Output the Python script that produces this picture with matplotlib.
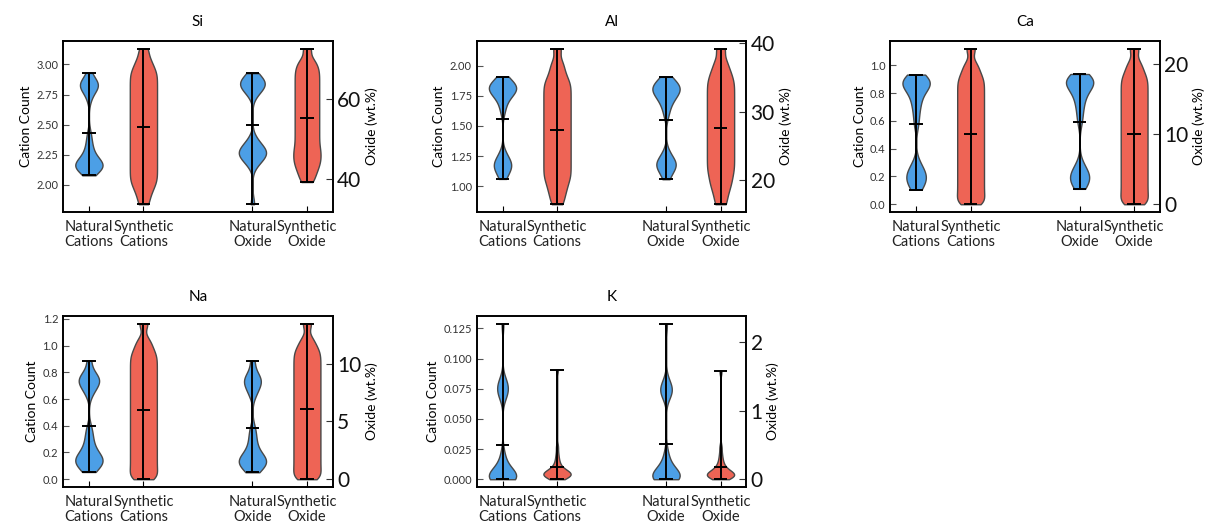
import numpy as np
import matplotlib
matplotlib.use('Agg')
import matplotlib.pyplot as plt
from matplotlib.ticker import MaxNLocator

plt.rcParams['font.family'] = ['Lato', 'DejaVu Sans']

elements = ['Si', 'Al', 'Ca', 'Na', 'K']
xlabels = ['Natural\nCations', 'Synthetic\nCations', 'Natural\nOxide', 'Synthetic\nOxide']

# values (cation count per formula unit / oxide wt.%)
si_nat_cat = [2.08, 2.11, 2.13, 2.14, 2.15, 2.16, 2.16, 2.17, 2.18, 2.19, 2.21, 2.23, 2.26, 2.30, 2.35, 2.42,
              2.72, 2.78, 2.80, 2.82, 2.83, 2.84, 2.85, 2.87, 2.93]
si_syn_cat = [1.84, 1.91, 1.96, 2.00, 2.03, 2.06, 2.09, 2.12, 2.15, 2.18, 2.21, 2.24, 2.27, 2.30, 2.33, 2.36,
              2.39, 2.42, 2.45, 2.48, 2.51, 2.54, 2.57, 2.60, 2.63, 2.66, 2.69, 2.72, 2.75, 2.78, 2.81, 2.84,
              2.87, 2.90, 2.93, 2.96, 3.00, 3.05, 3.13]
si_nat_ox = [33.75, 43.5, 44.5, 45.2, 45.8, 46.2, 46.5, 46.8, 47.2, 47.6, 48.2, 49.0, 50.2,
             61.0, 62.2, 62.8, 63.3, 63.7, 64.0, 64.4, 64.9, 65.5, 66.5]
si_syn_ox = [39.3, 40.8, 42.0, 43.0, 43.9, 44.7, 45.5, 46.3, 47.1, 47.9, 48.8, 49.7, 50.6, 51.5, 52.4, 53.3,
             54.2, 55.1, 56.0, 56.9, 57.8, 58.7, 59.6, 60.5, 61.4, 62.3, 63.2, 64.1, 65.0, 65.9, 66.8, 67.7,
             68.7, 69.9, 72.6]

al_nat_cat = [1.06, 1.10, 1.13, 1.15, 1.17, 1.18, 1.19, 1.21, 1.24, 1.28,
              1.62, 1.68, 1.72, 1.75, 1.77, 1.78, 1.79, 1.80, 1.81, 1.82, 1.83, 1.84, 1.85, 1.86, 1.88, 1.91]
al_syn_cat = [0.85, 0.91, 0.96, 1.00, 1.04, 1.07, 1.10, 1.13, 1.16, 1.19, 1.22, 1.25, 1.28, 1.31, 1.34, 1.37,
              1.40, 1.43, 1.46, 1.49, 1.52, 1.55, 1.58, 1.61, 1.64, 1.67, 1.70, 1.73, 1.76, 1.79, 1.82, 1.85,
              1.88, 1.92, 1.97, 2.03, 2.14]
al_nat_ox = [20.15, 21.0, 21.5, 21.9, 22.2, 22.4, 22.6, 22.9, 23.4, 24.2,
             29.5, 30.6, 31.3, 31.8, 32.2, 32.5, 32.8, 33.0, 33.2, 33.4, 33.6, 33.8, 34.0, 34.3, 34.6, 35.1]
al_syn_ox = [16.5, 17.8, 18.8, 19.6, 20.3, 21.0, 21.6, 22.2, 22.8, 23.4, 24.0, 24.6, 25.2, 25.8, 26.4, 27.0,
             27.6, 28.2, 28.8, 29.4, 30.0, 30.6, 31.2, 31.8, 32.4, 33.0, 33.6, 34.2, 34.8, 35.5, 36.3, 37.4, 39.2]

ca_nat_cat = [0.105, 0.13, 0.16, 0.18, 0.20, 0.21, 0.23, 0.26, 0.30,
              0.58, 0.66, 0.72, 0.76, 0.80, 0.83, 0.85, 0.86, 0.87, 0.88, 0.89, 0.90, 0.91, 0.934]
ca_syn_cat = [0.0, 0.02, 0.05, 0.08, 0.11, 0.14, 0.17, 0.20, 0.23, 0.26, 0.29, 0.32, 0.35, 0.38,
              0.41, 0.44, 0.47, 0.50, 0.53, 0.56, 0.59, 0.62, 0.65, 0.68, 0.71, 0.74, 0.77, 0.80, 0.83, 0.86,
              0.89, 0.92, 0.96, 1.01, 1.12]
ca_nat_ox = [2.2, 2.7, 3.2, 3.6, 3.9, 4.1, 4.5, 5.0, 5.8,
             11.8, 13.2, 14.3, 15.1, 15.8, 16.3, 16.8, 17.1, 17.3, 17.4, 17.6, 17.8, 18.0, 18.2, 18.6]
ca_syn_ox = [0.0, 0.4, 1.0, 1.6, 2.2, 2.8, 3.4, 4.0, 4.6, 5.2, 5.8, 6.4, 7.0, 7.6, 8.2, 8.8, 9.4,
             10.0, 10.6, 11.2, 11.8, 12.4, 13.0, 13.6, 14.2, 14.8, 15.4, 16.0, 16.6, 17.2, 17.8, 18.4, 19.2,
             20.2, 22.2]

na_nat_cat = [0.054, 0.08, 0.10, 0.12, 0.13, 0.14, 0.15, 0.16, 0.18, 0.20, 0.23, 0.27, 0.32, 0.38,
              0.64, 0.68, 0.71, 0.73, 0.74, 0.75, 0.77, 0.80, 0.888]
na_syn_cat = [0.0, 0.02, 0.05, 0.08, 0.11, 0.14, 0.17, 0.20, 0.23, 0.26, 0.29, 0.32, 0.35, 0.38,
              0.41, 0.44, 0.47, 0.50, 0.53, 0.56, 0.59, 0.62, 0.65, 0.68, 0.71, 0.74, 0.77, 0.80, 0.83, 0.86,
              0.89, 0.92, 0.95, 0.99, 1.04, 1.163]
na_nat_ox = [0.6, 0.9, 1.1, 1.3, 1.45, 1.55, 1.65, 1.8, 2.0, 2.2, 2.6, 3.1, 3.7, 4.4,
             7.3, 7.8, 8.2, 8.4, 8.6, 8.8, 9.2, 10.23]
na_syn_ox = [0.0, 0.25, 0.6, 0.95, 1.3, 1.65, 2.0, 2.35, 2.7, 3.05, 3.4, 3.75, 4.1, 4.45, 4.8, 5.15,
             5.5, 5.85, 6.2, 6.55, 6.9, 7.25, 7.6, 7.95, 8.3, 8.65, 9.0, 9.35, 9.7, 10.05, 10.4, 10.75,
             11.1, 11.5, 12.1, 13.44]

k_nat_cat = [0.0, 0.0, 0.0, 0.0005, 0.001, 0.001, 0.0015, 0.002, 0.002, 0.0025, 0.003, 0.003, 0.004, 0.005,
             0.006, 0.008, 0.010, 0.013, 0.017, 0.022,
             0.068, 0.070, 0.072, 0.075, 0.076, 0.078, 0.080, 0.083, 0.1288]
k_syn_cat = [0.0, 0.0, 0.001, 0.002, 0.002, 0.003, 0.003, 0.003, 0.004, 0.004, 0.004, 0.005, 0.005, 0.005,
             0.006, 0.006, 0.006, 0.007, 0.008, 0.009, 0.010, 0.012, 0.014, 0.017, 0.021, 0.027, 0.0909]
k_nat_ox = [0.0, 0.0, 0.0, 0.01, 0.02, 0.02, 0.03, 0.04, 0.04, 0.05, 0.06, 0.06, 0.08, 0.10, 0.12, 0.15,
            0.19, 0.24, 0.31, 0.40, 1.20, 1.24, 1.28, 1.30, 1.31, 1.34, 1.38, 1.45, 2.265]
k_syn_ox = [0.0, 0.0, 0.02, 0.03, 0.04, 0.04, 0.05, 0.05, 0.06, 0.07, 0.07, 0.08, 0.09, 0.09, 0.10, 0.11,
            0.12, 0.14, 0.16, 0.18, 0.21, 0.25, 0.30, 0.37, 0.47, 1.57]

cation_data = {'Si': (si_nat_cat, si_syn_cat), 'Al': (al_nat_cat, al_syn_cat), 'Ca': (ca_nat_cat, ca_syn_cat),
               'Na': (na_nat_cat, na_syn_cat), 'K': (k_nat_cat, k_syn_cat)}
oxide_data = {'Si': (si_nat_ox, si_syn_ox), 'Al': (al_nat_ox, al_syn_ox), 'Ca': (ca_nat_ox, ca_syn_ox),
              'Na': (na_nat_ox, na_syn_ox), 'K': (k_nat_ox, k_syn_ox)}

BLUE = '#4c9fe6'
RED = '#ee6455'
bw_nat = 0.17
bw_syn = {'Si': 0.14, 'Al': 0.14, 'Ca': 0.13, 'Na': 0.13, 'K': 0.17}


def draw_violin(ax, data, pos, color, bw):
    parts = ax.violinplot([data], positions=[pos], widths=0.5, showmeans=True, bw_method=bw)
    for body in parts['bodies']:
        body.set_facecolor(color)
        body.set_edgecolor('#484848')
        body.set_linewidth(1.0)
        body.set_alpha(1)
    for key in ['cmeans', 'cmins', 'cmaxes', 'cbars']:
        parts[key].set_color('black')
        parts[key].set_linewidth(1.4)


fig, axes = plt.subplots(2, 3, figsize=(12.19, 5.32), dpi=100)
fig.subplots_adjust(left=0.0517, right=0.9516, top=0.9229, bottom=0.0846, wspace=0.533, hspace=0.608)

for i, el in enumerate(elements):
    ax = axes.flat[i]
    nat_c, syn_c = cation_data[el]
    nat_o, syn_o = oxide_data[el]
    ax2 = ax.twinx()
    draw_violin(ax, nat_c, 1, BLUE, bw_nat)
    draw_violin(ax, syn_c, 2, RED, bw_syn[el])
    draw_violin(ax2, nat_o, 4, BLUE, bw_nat)
    draw_violin(ax2, syn_o, 5, RED, bw_syn[el])
    ax.set_xlim(0.525, 5.475)
    ax.set_xticks([1, 2, 4, 5])
    ax.set_xticklabels(xlabels, fontsize=10.5, color='#222222', linespacing=1.1)
    ax.set_title(el, fontsize=11, pad=11)
    ax.set_ylabel('Cation Count', fontsize=10, labelpad=3)
    ax2.set_ylabel('Oxide (wt.%)', fontsize=10, labelpad=3)
    ax.tick_params(axis='y', direction='in', labelsize=8, length=4, color='#555555', labelcolor='#333333')
    ax.tick_params(axis='x', direction='in', length=4, pad=6)
    ax2.yaxis.set_major_locator(MaxNLocator(3, steps=[1, 2, 5, 10]))
    ax2.tick_params(axis='y', direction='in', labelsize=15, length=5, color='#333333', labelcolor='#111111', pad=3)
    for a in (ax, ax2):
        for sp in a.spines.values():
            sp.set_linewidth(1.2)

axes.flat[5].axis('off')

plt.savefig('out.png', dpi=100)
